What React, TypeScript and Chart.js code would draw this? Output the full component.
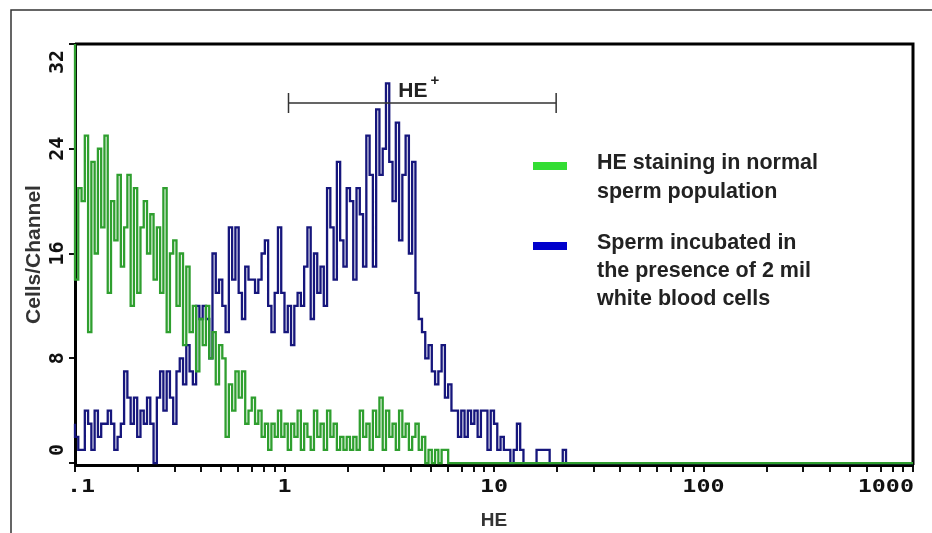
import React, { useEffect, useRef } from "react";
import { Chart, registerables } from "chart.js";

Chart.register(...registerables);

// ---- data (cells per channel, 64 channels per decade, starting at 0.1) ----
const CHANNELS_PER_DECADE = 64;
const CHANNEL_COUNT = 256;
const X_MIN = 0.1;
const X_MAX = 1000;
const Y_MIN = -0.15;
const Y_MAX = 32;

const normalSpermCounts = [
  33, 14, 21, 20, 25, 10, 23, 16, 24, 18,
  25, 13, 20, 17, 22, 15, 18, 22, 12, 21,
  13, 18, 20, 16, 19, 14, 18, 13, 21, 10,
  16, 17, 12, 16, 9, 15, 10, 12, 7, 11,
  9, 12, 8, 10, 6, 9, 8, 2, 6, 4,
  7, 5, 7, 3, 4, 5, 3, 4, 2, 3,
  1, 3, 2, 4, 2, 3, 1, 3, 2, 4,
  1, 3, 2, 1, 4, 2, 3, 1, 4, 2,
  3, 1, 2, 1, 2, 1, 2, 1, 4, 2,
  3, 1, 4, 2, 5, 1, 4, 2, 3, 1,
  4, 2, 3, 1, 2, 3, 1, 2, 0, 1,
  0, 1, 0, 1, 1, 0,
];

const wbcSpermCounts = [
  3, 2, 1, 1, 4, 3, 1, 4, 2, 3,
  3, 4, 3, 1, 2, 3, 7, 5, 3, 5,
  2, 4, 3, 5, 3, 0, 5, 7, 4, 7,
  5, 3, 7, 8, 6, 9, 7, 6, 12, 11,
  12, 11, 8, 16, 13, 14, 12, 10, 18, 14,
  18, 13, 11, 15, 14, 14, 13, 14, 16, 17,
  12, 10, 13, 18, 13, 10, 12, 9, 12, 13,
  12, 15, 18, 11, 16, 13, 15, 12, 21, 18,
  14, 23, 17, 15, 21, 20, 14, 21, 19, 15,
  25, 22, 15, 27, 22, 24, 29, 23, 20, 26,
  17, 22, 25, 16, 23, 13, 11, 10, 8, 9,
  7, 6, 7, 9, 5, 6, 4, 4, 2, 4,
  2, 4, 3, 4, 2, 4, 4, 1, 4, 3,
  1, 2, 1, 1, 0, 1, 3, 1, 0, 0,
  0, 0, 1, 1, 1, 1, 0, 0, 0, 0,
  1,
];

const xTickValues = [0.1, 1, 10, 100, 1000];
const xTickLabels = [".1", "1", "10", "100", "1000"];
const yTickValues = [0, 8, 16, 24, 32];
const xMinorMultipliers = [1, 2, 3, 4, 5, 6, 7, 8, 9];

const gateRange = [1.045, 19.8];
const gateLevel = 27.5;
const gateLabelAt = 4.1;

const seriesNames = [
  ["HE staining in normal", "sperm population"],
  ["Sperm incubated in", "the presence of 2 mil", "white blood cells"],
];
const xTitle = "HE";
const yTitle = "Cells/Channel";

const toPoints = (counts: number[]) => {
  const pts: { x: number; y: number }[] = [];
  for (let i = 0; i < CHANNEL_COUNT; i++) {
    pts.push({ x: X_MIN * Math.pow(10, i / CHANNELS_PER_DECADE), y: counts[i] ?? 0 });
  }
  pts.push({ x: X_MAX, y: 0 });
  return pts;
};

type TxtOpts = {
  font: string;
  color: string;
  align: CanvasTextAlign;
  baseline: CanvasTextBaseline;
  rotate?: number;
  stretch?: number;
};

const drawText = (ctx: CanvasRenderingContext2D, text: string, x: number, y: number, o: TxtOpts) => {
  ctx.save();
  ctx.translate(x, y);
  if (o.rotate) ctx.rotate(o.rotate);
  if (o.stretch) ctx.scale(o.stretch, 1);
  ctx.font = o.font;
  ctx.fillStyle = o.color;
  ctx.textAlign = o.align;
  ctx.textBaseline = o.baseline;
  ctx.fillText(text, 0, 0);
  ctx.restore();
};

const decorPlugin = {
  id: "decor",
  beforeDraw(chart: any) {
    const ctx: CanvasRenderingContext2D = chart.ctx;
    ctx.save();
    ctx.fillStyle = "#ffffff";
    ctx.fillRect(0, 0, chart.width, chart.height);
    ctx.strokeStyle = "#333";
    ctx.lineWidth = 1.5;
    ctx.strokeRect(11, 10, 1000, 1000);
    ctx.restore();
  },
  beforeDatasetsDraw(chart: any) {
    const ctx: CanvasRenderingContext2D = chart.ctx;
    const a = chart.chartArea;
    ctx.save();
    ctx.strokeStyle = "#000";
    ctx.lineWidth = 3;
    ctx.beginPath();
    ctx.moveTo(a.left, a.top);
    ctx.lineTo(a.right, a.top);
    ctx.lineTo(a.right, a.bottom);
    ctx.stroke();
    ctx.restore();
  },
  afterDraw(chart: any) {
    const ctx: CanvasRenderingContext2D = chart.ctx;
    const xs = chart.scales.x;
    const ys = chart.scales.y;
    const a = chart.chartArea;

    // x tick labels
    xTickValues.forEach((v, i) => {
      const px = xs.getPixelForValue(v);
      const first = i === 0;
      const last = i === xTickValues.length - 1;
      drawText(ctx, xTickLabels[i], first ? px - 8 : last ? px + 1 : px, 492, {
        font: 'bold 18px "DejaVu Sans Mono"',
        color: "#111",
        align: first ? "left" : last ? "right" : "center",
        baseline: "alphabetic",
        stretch: 1.3,
      });
    });

    // y tick labels (rotated)
    yTickValues.forEach((v, i) => {
      const py = ys.getPixelForValue(v);
      const first = i === 0;
      const last = i === yTickValues.length - 1;
      drawText(ctx, String(v), 63, first ? py - 7 : last ? py + 6 : py, {
        font: 'bold 20px "DejaVu Sans Mono"',
        color: "#111",
        align: first ? "left" : last ? "right" : "center",
        baseline: "alphabetic",
        rotate: -Math.PI / 2,
      });
    });

    // axis titles
    drawText(ctx, yTitle, 34, (a.top + a.bottom) / 2, {
      font: 'bold 21px "Liberation Sans", Arial, sans-serif',
      color: "#333",
      align: "center",
      baseline: "middle",
      rotate: -Math.PI / 2,
    });
    drawText(ctx, xTitle, xs.getPixelForValue(10), 526, {
      font: 'bold 19px "Liberation Sans", Arial, sans-serif',
      color: "#333",
      align: "center",
      baseline: "alphabetic",
    });

    // HE+ gate bracket
    const gx0 = xs.getPixelForValue(gateRange[0]);
    const gx1 = xs.getPixelForValue(gateRange[1]);
    const gy = ys.getPixelForValue(gateLevel);
    ctx.save();
    ctx.strokeStyle = "#333";
    ctx.lineWidth = 1.5;
    ctx.beginPath();
    ctx.moveTo(gx0, gy);
    ctx.lineTo(gx1, gy);
    ctx.moveTo(gx0, gy - 10);
    ctx.lineTo(gx0, gy + 10);
    ctx.moveTo(gx1, gy - 10);
    ctx.lineTo(gx1, gy + 10);
    ctx.stroke();
    ctx.restore();
    const lx = xs.getPixelForValue(gateLabelAt);
    drawText(ctx, "HE", lx, gy - 6, {
      font: 'bold 21px "Liberation Sans", Arial, sans-serif',
      color: "#222",
      align: "center",
      baseline: "alphabetic",
    });
    drawText(ctx, "+", lx + 22, gy - 22, {
      font: 'bold 15px "Liberation Sans", Arial, sans-serif',
      color: "#222",
      align: "center",
      baseline: "middle",
    });

    // legend
    const swatches = ["#33dd33", "#0000cc"];
    const swatchY = [162, 242];
    const textBase = [[169, 198], [249, 277, 305]];
    seriesNames.forEach((lines, si) => {
      ctx.save();
      ctx.fillStyle = swatches[si];
      ctx.fillRect(533, swatchY[si], 34, 8);
      ctx.restore();
      lines.forEach((t, li) => {
        drawText(ctx, t, 597, textBase[si][li], {
          font: 'bold 21.5px "Liberation Sans", Arial, sans-serif',
          color: "#222",
          align: "left",
          baseline: "alphabetic",
        });
      });
    });
  },
};

export default function App() {
  const canvasRef = useRef<HTMLCanvasElement | null>(null);

  useEffect(() => {
    if (!canvasRef.current) return;
    const minorTicks: number[] = [];
    [0.1, 1, 10, 100].forEach((d) => xMinorMultipliers.forEach((m) => minorTicks.push(d * m)));
    minorTicks.push(X_MAX);
    const clipBox = { left: 4, top: 0, right: 4, bottom: 4 };

    const chart = new Chart(canvasRef.current, {
      type: "line",
      data: {
        datasets: [
          {
            label: seriesNames[0].join(" "),
            data: toPoints(normalSpermCounts),
            borderColor: "#2f9f2f",
            borderWidth: 2.3,
            pointRadius: 0,
            stepped: "after",
            fill: false,
            order: 0,
            clip: clipBox,
          },
          {
            label: seriesNames[1].join(" "),
            data: toPoints(wbcSpermCounts),
            borderColor: "#16167c",
            borderWidth: 2.3,
            pointRadius: 0,
            stepped: "after",
            fill: false,
            order: 1,
            clip: clipBox,
          },
        ],
      },
      options: {
        responsive: false,
        animation: false,
        layout: { padding: { left: 0, top: 44, right: 19, bottom: 0 } },
        plugins: { legend: { display: false }, tooltip: { enabled: false } },
        scales: {
          x: {
            type: "logarithmic",
            min: X_MIN,
            max: X_MAX,
            afterBuildTicks: (scale: any) => {
              scale.ticks = minorTicks.map((v) => ({ value: v }));
            },
            afterFit: (scale: any) => {
              scale.height = 68;
            },
            ticks: { display: false },
            grid: { drawOnChartArea: false, drawTicks: true, tickLength: 7, color: "#111", lineWidth: 2, z: -1 },
            border: { display: true, color: "#000", width: 3, z: -1 },
          },
          y: {
            type: "linear",
            min: Y_MIN,
            max: Y_MAX,
            afterBuildTicks: (scale: any) => {
              scale.ticks = yTickValues.map((v) => ({ value: v }));
            },
            afterFit: (scale: any) => {
              scale.width = 75;
            },
            ticks: { display: false },
            grid: { drawOnChartArea: false, drawTicks: true, tickLength: 6, color: "#111", lineWidth: 2, z: -1 },
            border: { display: true, color: "#000", width: 3, z: -1 },
          },
        },
      },
      plugins: [decorPlugin],
    });
    return () => chart.destroy();
  }, []);

  return (
    <div style={{ position: "absolute", left: 0, top: 0, width: 932, height: 533, background: "#fff", overflow: "hidden" }}>
      <canvas ref={canvasRef} width={932} height={533} style={{ display: "block", width: 932, height: 533 }} />
    </div>
  );
}
